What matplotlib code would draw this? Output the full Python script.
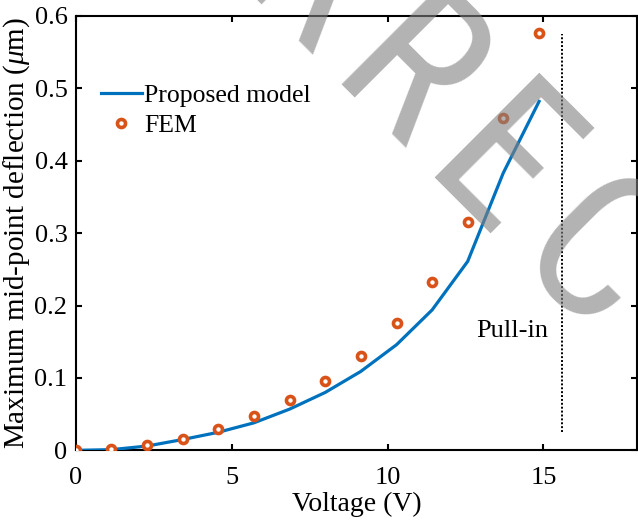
import matplotlib
matplotlib.use("Agg")
import math
import matplotlib.pyplot as plt
from matplotlib import font_manager
from matplotlib.font_manager import FontProperties
from matplotlib.ft2font import FT2Font

# ---- data ----
voltage = [0, 1.14, 2.29, 3.43, 4.57, 5.71, 6.86, 8.0, 9.14, 10.29, 11.43, 12.57, 13.71, 14.86]
model_defl = [0, 0.001, 0.006, 0.015, 0.025, 0.038, 0.057, 0.080, 0.109, 0.146, 0.194, 0.261, 0.383, 0.482]
fem_defl = [0, 0.002, 0.008, 0.016, 0.030, 0.047, 0.069, 0.096, 0.131, 0.176, 0.233, 0.315, 0.459, 0.577]
pullin_v = 15.6
pullin_range = [0.025, 0.575]
xticks = [0, 5, 10, 15]
yticks = [0, 0.1, 0.2, 0.3, 0.4, 0.5, 0.6]
ytick_labels = ["0", "0.1", "0.2", "0.3", "0.4", "0.5", "0.6"]
series_labels = ["Proposed model", "FEM"]
watermark = "CORRECTED"

serif = "Liberation Serif"
plt.rcParams["font.family"] = [serif, "DejaVu Serif"]
plt.rcParams["mathtext.fontset"] = "custom"
plt.rcParams["mathtext.rm"] = serif
plt.rcParams["mathtext.it"] = serif + ":italic"

fs = 19
W, H = 638, 524
fig = plt.figure(figsize=(W / 100, H / 100), dpi=100)
ax = fig.add_axes([0.1187, 0.1405, 0.8797, 0.829])

blue = "#0072BD"
orange = "#D95319"

ax.plot(voltage, model_defl, color=blue, lw=2.3, label=series_labels[0], zorder=3)
ax.plot(voltage, fem_defl, linestyle="none", marker="o", markersize=5.8,
        markerfacecolor="white", markeredgecolor=orange, markeredgewidth=2.6,
        label=series_labels[1], zorder=4)
ax.plot([pullin_v, pullin_v], pullin_range, color="black", lw=1.4, linestyle=(0, (1, 1)), zorder=2)
ax.text(15.14, 0.157, "Pull-in", ha="right", va="baseline", fontsize=fs)

ax.set_xlim(0, 18)
ax.set_ylim(0, 0.6)
ax.set_xticks(xticks)
ax.set_xticklabels([str(t) for t in xticks])
ax.set_yticks(yticks)
ax.set_yticklabels(ytick_labels)
ax.tick_params(direction="in", length=4, width=1.5, labelsize=fs, top=True, right=True)
ax.tick_params(axis="x", pad=12)
ax.tick_params(axis="y", pad=6)
for s in ax.spines.values():
    s.set_linewidth(1.5)

ax.set_xlabel("Voltage (V)", fontsize=20, labelpad=2)
ax.set_ylabel(r"Maximum mid-point deflection ($\mu$m)", fontsize=21, labelpad=1.5)

leg = ax.legend(loc="upper left", bbox_to_anchor=(0.0446, 0.843), frameon=False,
                fontsize=18.5, handlelength=1.6, handletextpad=0.1,
                labelspacing=0.25, borderpad=0, borderaxespad=0)

# watermark: a narrow sans face if one is installed
entries = font_manager.fontManager.ttflist
wm_file = None
for want in ["Liberation Sans Narrow", "Roboto Condensed", "Open Sans Condensed"]:
    for f in entries:
        if f.name == want and f.style == "normal" and f.weight in (400, "normal", "regular"):
            wm_file = f.fname
            break
    if wm_file:
        break
wm_size = 149
if wm_file:
    prop = FontProperties(fname=wm_file, size=wm_size)
else:
    prop = FontProperties(family="Liberation Sans", size=wm_size * 0.9)
    wm_file = font_manager.findfont(prop)

# letter spacing with hair spaces when the face has them
sep = ""
try:
    ft = FT2Font(wm_file)
    if ft.get_char_index(0x200A) != 0:
        sep = "\u200a"
except Exception:
    sep = ""
wm_text = sep.join(watermark)

angle = -45
renderer = fig.canvas.get_renderer()
prefix = sep.join(watermark[:5])  # up to and including the first "E"
w_pre, _, _ = renderer.get_text_width_height_descent(prefix, prop, ismath=False)
w_e, _, _ = renderer.get_text_width_height_descent("E", prop, ismath=False)
shift = w_pre - w_e
tx, ty = 423, H - 166
ca, sa = math.cos(math.radians(angle)), math.sin(math.radians(angle))
ax_x = tx - shift * ca
ax_y = ty - shift * sa
fig.text(ax_x / W, ax_y / H, wm_text, rotation=angle, rotation_mode="anchor",
         ha="left", va="baseline", fontproperties=prop,
         color="0.5", alpha=0.6, zorder=10)

fig.savefig("out.png", dpi=100)
